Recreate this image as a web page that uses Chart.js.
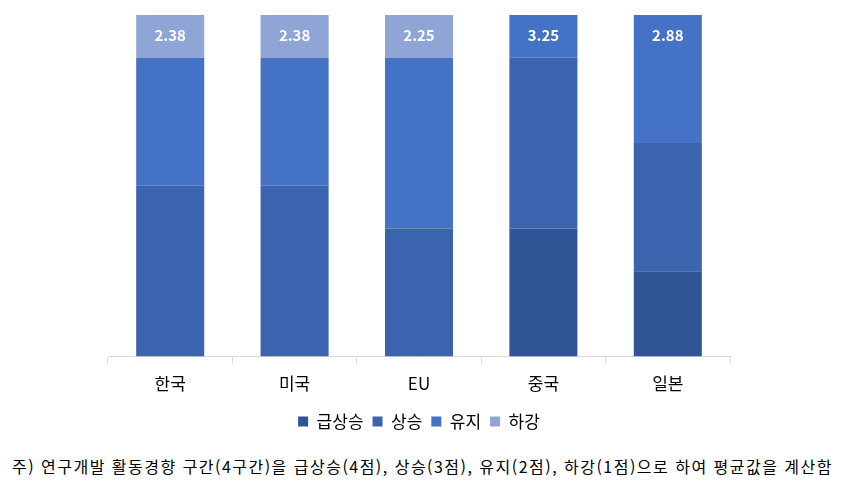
<!DOCTYPE html>
<html lang="ko">
<head>
<meta charset="UTF-8">
<title>연구개발 활동경향</title>
<script src="https://cdn.jsdelivr.net/npm/chart.js"></script>
<style>
  body { margin: 0; background: #fff; }
  #wrap { position: relative; width: 843px; height: 440px; }
  #note {
    position: absolute; left: 12px; top: 454px; white-space: nowrap;
    font-family: "Noto Sans CJK KR", sans-serif; font-size: 16px; color: #000;
  }
</style>
</head>
<body>
<div id="wrap"><canvas id="trendChart"></canvas></div>
<div id="note">주) 연구개발 활동경향 구간(4구간)을 급상승(4점), 상승(3점), 유지(2점), 하강(1점)으로 하여 평균값을 계산함</div>
<script>
// 응답 비율(%)
const regions = ['한국', '미국', 'EU', '중국', '일본'];
const surge   = [0, 0, 0, 37.5, 25];
const rise    = [50, 50, 37.5, 50, 37.5];
const keep    = [37.5, 37.5, 50, 12.5, 37.5];
const fall    = [12.5, 12.5, 12.5, 0, 0];
const averages = ['2.38', '2.38', '2.25', '3.25', '2.88'];

// stretch the footnote to the reference width
const note = document.getElementById('note');
const chars = note.textContent.length;
note.style.letterSpacing = ((821 - note.getBoundingClientRect().width) / chars) + 'px';

const avgLabels = {
    id: 'avgLabels',
    afterDatasetsDraw(chart) {
        const ctx = chart.ctx;
        ctx.save();
        ctx.fillStyle = '#fff';
        ctx.font = 'bold 15px "Noto Sans CJK KR", sans-serif';
        ctx.textAlign = 'center';
        ctx.textBaseline = 'middle';
        regions.forEach((r, i) => {
            const last = chart.data.datasets.length - 1;
            const bar = chart.getDatasetMeta(last).data[i];
            ctx.fillText(averages[i], bar.x, chart.scales.y.getPixelForValue(100) + 20);
        });
        ctx.restore();
    }
};

new Chart(document.getElementById('trendChart'), {
    type: 'bar',
    data: {
        labels: regions,
        datasets: [
            { label: '급상승', data: surge, backgroundColor: '#2F5597' },
            { label: '상승', data: rise, backgroundColor: '#3A64AD' },
            { label: '유지', data: keep, backgroundColor: '#4472C4' },
            { label: '하강', data: fall, backgroundColor: '#8FA5D6' }
        ]
    },
    options: {
        responsive: true,
        maintainAspectRatio: false,
        animation: false,
        layout: { padding: { left: 108, right: 113, top: 15, bottom: 0 } },
        datasets: { bar: { categoryPercentage: 0.547, barPercentage: 1 } },
        scales: {
            x: {
                stacked: true,
                grid: { drawOnChartArea: false, color: '#d9d9d9', tickLength: 7 },
                border: { color: '#d9d9d9' },
                ticks: { color: '#000', padding: 10, font: { family: '"Noto Sans CJK KR", sans-serif', size: 17 } }
            },
            y: { stacked: true, min: 0, max: 100, display: false }
        },
        plugins: {
            legend: {
                position: 'bottom',
                labels: {
                    boxWidth: 10, boxHeight: 10, padding: 9, color: '#000',
                    font: { family: '"Noto Sans CJK KR", sans-serif', size: 17 }
                }
            },
            tooltip: { enabled: false }
        }
    },
    plugins: [avgLabels]
});
</script>
</body>
</html>
